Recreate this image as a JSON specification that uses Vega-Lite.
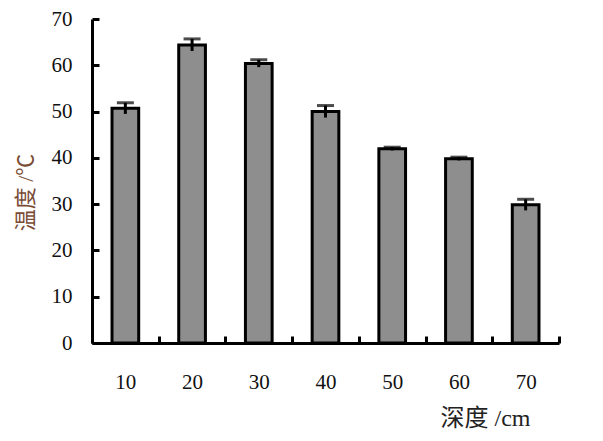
{
  "$schema": "https://vega.github.io/schema/vega-lite/v6.json",
  "autosize": "none",
  "width": 467,
  "height": 324,
  "padding": {"left": 92, "top": 19, "right": 44, "bottom": 98},
  "background": "white",
  "config": {"view": {"stroke": null}},
  "data": {"values": [
    {"depth": "10", "temp": 50.7, "err": 1.2},
    {"depth": "20", "temp": 64.4, "err": 1.3},
    {"depth": "30", "temp": 60.4, "err": 0.8},
    {"depth": "40", "temp": 50.0, "err": 1.3},
    {"depth": "50", "temp": 41.95, "err": 0.35},
    {"depth": "60", "temp": 39.8, "err": 0.35},
    {"depth": "70", "temp": 29.85, "err": 1.2}
  ]},
  "encoding": {
    "x": {
      "field": "depth", "type": "ordinal", "sort": null,
      "scale": {"paddingInner": 0, "paddingOuter": 0},
      "axis": {
        "title": "深度 /cm",
        "labelAngle": 0,
        "labelFont": "'Liberation Serif', 'Times New Roman', 'DejaVu Serif', serif",
        "labelFontSize": 21,
        "labelColor": "#111",
        "labelPadding": 35,
        "tickBand": "extent",
        "tickSize": -7,
        "tickWidth": 3,
        "tickColor": "black",
        "domainColor": "black",
        "domainWidth": 3,
        "titleFont": "'Liberation Serif', 'Times New Roman', 'Noto Sans CJK SC', serif",
        "titleFontSize": 24,
        "titleFontWeight": "normal",
        "titleColor": "#222",
        "titleAlign": "center",
        "titleBaseline": "alphabetic",
        "titleX": 393,
        "titleY": 82
      }
    }
  },
  "layer": [
    {
      "mark": {"type": "bar", "width": {"band": 0.4}, "fill": "#8e8e8e", "stroke": "black", "strokeWidth": 3},
      "encoding": {
        "y": {
          "field": "temp", "type": "quantitative",
          "scale": {"domain": [0, 70], "nice": false},
          "axis": {
            "title": "温度 /℃",
            "values": [0, 10, 20, 30, 40, 50, 60, 70],
            "grid": false,
            "labelFont": "'Liberation Serif', 'Times New Roman', 'DejaVu Serif', serif",
            "labelFontSize": 21,
            "labelColor": "#111",
            "labelPadding": 27,
            "tickSize": -7,
            "tickWidth": 3,
            "tickColor": "black",
            "domainColor": "black",
            "domainWidth": 3,
            "titleFont": "'Liberation Serif', 'Times New Roman', 'Noto Sans CJK SC', serif",
            "titleFontSize": 22,
            "titleFontWeight": "normal",
            "titleColor": "#7a4b35",
            "titleAngle": -90,
            "titleAlign": "center",
            "titleBaseline": "middle",
            "titleX": -67,
            "titleY": 173
          }
        }
      }
    },
    {
      "transform": [
        {"calculate": "datum.temp - datum.err", "as": "lo"},
        {"calculate": "datum.temp + datum.err", "as": "hi"}
      ],
      "mark": {"type": "rule", "color": "black", "strokeWidth": 3},
      "encoding": {
        "y": {"field": "lo", "type": "quantitative"},
        "y2": {"field": "hi"}
      }
    },
    {
      "transform": [
        {"calculate": "datum.temp + datum.err", "as": "hi"}
      ],
      "mark": {"type": "tick", "color": "black", "orient": "horizontal", "size": 17, "thickness": 3},
      "encoding": {
        "y": {"field": "hi", "type": "quantitative"}
      }
    }
  ]
}
